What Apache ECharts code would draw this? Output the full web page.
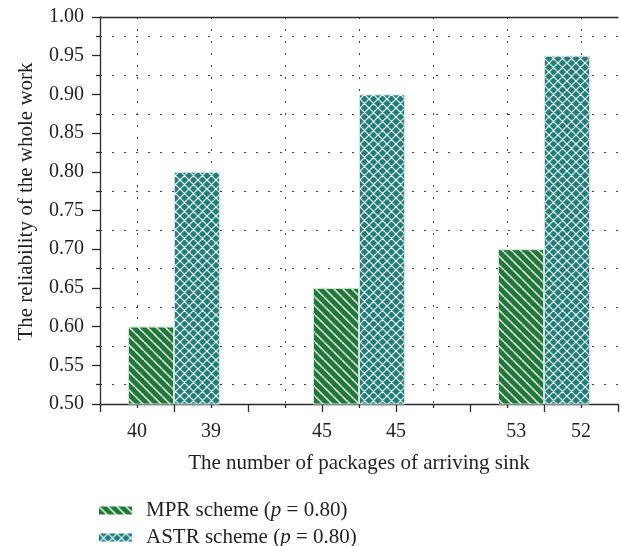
<!DOCTYPE html>
<html>
<head>
<meta charset="utf-8">
<script src="https://cdn.jsdelivr.net/npm/echarts@6/dist/echarts.min.js"></script>
<style>
  html, body { margin: 0; padding: 0; background: #fff; }
  #chart { width: 621px; height: 546px; }
</style>
</head>
<body>
<div id="chart"></div>
<script>
// Reliability per scheme, one value per group of arriving packages
const groupPositions = [2, 7, 12];
const mprValues = [0.60, 0.65, 0.70];
const astrValues = [0.80, 0.90, 0.95];

// Package counts written under the bars, with their place on the x scale
const xLabelPositions = [1, 3, 6, 8, 11.25, 13];
const xLabelTexts = ['40', '39', '45', '45', '53', '52'];

const seriesNames = ['MPR scheme', 'ASTR scheme'];

const FONT = '"Liberation Serif", "DejaVu Serif", serif';
const INK = '#231f20';
const AXIS = '#2a2a2a';
const DOTS = { color: '#444444', width: 1, type: [2, 10] };

// Hatch tiles: single diagonal stripes and a diagonal cross-hatch
function hatchTile(bg, size, lineWidth, cross) {
  const c = document.createElement('canvas');
  c.width = size; c.height = size;
  const g = c.getContext('2d');
  g.fillStyle = bg;
  g.fillRect(0, 0, size, size);
  g.strokeStyle = '#ffffff';
  g.lineWidth = lineWidth;
  g.beginPath();
  for (let k = -1; k <= 1; k++) {
    g.moveTo(k * size, 0);
    g.lineTo(k * size + size, size);
    if (cross) {
      g.moveTo(k * size + size, 0);
      g.lineTo(k * size, size);
    }
  }
  g.stroke();
  return c;
}

const mprFill = { image: hatchTile('#1f7a37', 9, 1.4, false), repeat: 'repeat' };
const astrFill = { image: hatchTile('#1b807b', 9, 1.2, true), repeat: 'repeat' };

function legendText(name) {
  return name + ' ({i|p} = 0.80)';
}

const chart = echarts.init(document.getElementById('chart'), null, { renderer: 'canvas' });

chart.setOption({
  animation: false,
  backgroundColor: '#ffffff',
  textStyle: { fontFamily: FONT, color: INK },
  grid: { left: 100, top: 17, width: 521, height: 387, containLabel: false },
  legend: {
    orient: 'vertical',
    left: 99,
    top: 500,
    height: 80,
    padding: 0,
    itemWidth: 33,
    itemHeight: 8,
    itemGap: 6,
    icon: 'rect',
    data: [
      { name: seriesNames[0], itemStyle: { color: mprFill, borderWidth: 0 } },
      { name: seriesNames[1], itemStyle: { color: astrFill, borderWidth: 0 } }
    ],
    formatter: legendText,
    textStyle: {
      fontFamily: FONT, fontSize: 21, color: INK, padding: [0, 0, 0, 9],
      rich: { i: { fontFamily: FONT, fontSize: 21, fontStyle: 'italic', color: INK } }
    }
  },
  xAxis: [
    {
      type: 'value',
      position: 'bottom',
      min: 0, max: 14, interval: 2,
      name: 'The number of packages of arriving sink',
      nameLocation: 'middle',
      nameGap: 49,
      nameTextStyle: { fontFamily: FONT, fontSize: 21, color: INK },
      axisLine: { show: true, lineStyle: { color: AXIS, width: 1.3 } },
      axisTick: { show: true, length: 8, lineStyle: { color: AXIS, width: 1.3 } },
      minorTick: { show: true, splitNumber: 2, length: 4, lineStyle: { color: AXIS, width: 1.3 } },
      axisLabel: { show: false },
      splitLine: { show: false },
      minorSplitLine: { show: true, lineStyle: DOTS }
    },
    {
      type: 'value',
      position: 'bottom',
      min: 0, max: 14, interval: 0.25,
      axisLine: { show: false },
      axisTick: { show: false },
      splitLine: { show: false },
      axisLabel: {
        show: true,
        margin: 18,
        fontFamily: FONT, fontSize: 20, color: INK,
        formatter: function (v) {
          const i = xLabelPositions.findIndex(p => Math.abs(p - v) < 1e-6);
          return i >= 0 ? xLabelTexts[i] : '';
        }
      }
    },
    {
      type: 'value',
      position: 'top',
      min: 0, max: 14,
      axisLine: { show: true, lineStyle: { color: AXIS, width: 1.3 } },
      axisTick: { show: false },
      axisLabel: { show: false },
      splitLine: { show: false }
    }
  ],
  yAxis: {
    type: 'value',
    min: 0.5, max: 1.0, interval: 0.05,
    name: 'The reliability of the whole work',
    nameLocation: 'middle',
    nameRotate: 90,
    nameGap: 63,
    nameTextStyle: { fontFamily: FONT, fontSize: 21, color: INK, padding: [0, 0, 0, 18] },
    axisLine: { show: true, lineStyle: { color: AXIS, width: 1.3 } },
    axisTick: { show: true, length: 8, lineStyle: { color: AXIS, width: 1.3 } },
    minorTick: { show: true, splitNumber: 2, length: 4, lineStyle: { color: AXIS, width: 1.3 } },
    axisLabel: {
      margin: 16,
      fontFamily: FONT, fontSize: 20, color: INK,
      formatter: v => v.toFixed(2)
    },
    splitLine: { show: false },
    minorSplitLine: { show: true, lineStyle: DOTS }
  },
  series: [
    {
      name: seriesNames[0],
      type: 'bar',
      xAxisIndex: 0,
      barWidth: 46,
      barGap: '0%',
      clip: true,
      itemStyle: { color: mprFill, borderColor: '#cfe4d4', borderWidth: 1 },
      data: groupPositions.map((x, i) => [x, mprValues[i]])
    },
    {
      name: seriesNames[1],
      type: 'bar',
      xAxisIndex: 0,
      barWidth: 46,
      barGap: '0%',
      clip: true,
      itemStyle: { color: astrFill, borderColor: '#cfe4e2', borderWidth: 1 },
      data: groupPositions.map((x, i) => [x, astrValues[i]])
    }
  ]
});
</script>
</body>
</html>
